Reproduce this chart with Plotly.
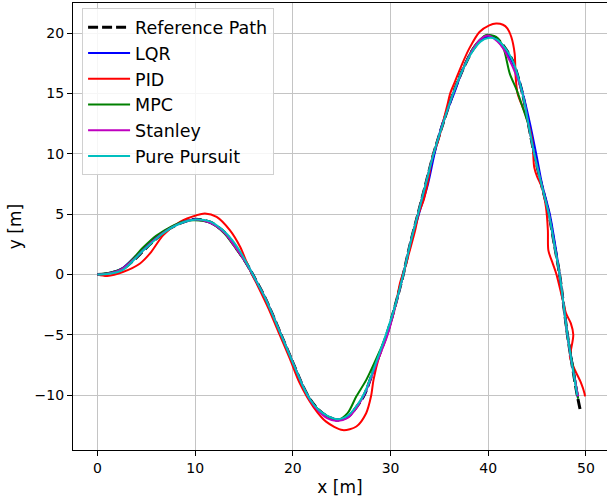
import plotly.graph_objects as go

# ---------------- data ----------------
ref_x = [0, 1.0, 2.5, 4.0, 5.5, 7.0, 8.5, 10.0, 11.5, 13.0, 14.2, 15.2, 16.2, 17.2, 18.8, 20.0,
         21.0, 21.8, 22.6, 23.5, 24.6, 25.7, 26.6, 27.3, 28.5, 29.6, 30.5, 31.3, 32.0, 32.8,
         33.6, 34.4, 35.4, 36.4, 37.4, 38.4, 39.2, 40.0, 40.8, 41.6, 42.5, 43.5, 44.1, 44.7,
         45.4, 46.2, 46.8, 47.3, 48.1, 48.6, 49.1, 49.4]
ref_y = [0, 0.06, 0.4, 1.4, 2.6, 3.6, 4.25, 4.58, 4.35, 3.5, 2.2, 1.0, -0.45, -2.0, -5.0, -7.3,
         -9.2, -10.4, -11.2, -11.75, -12.07, -11.75, -10.9, -10.0, -7.4, -5.0, -2.5, 0.0, 2.5, 5.0,
         7.5, 10.0, 12.6, 15.0, 17.0, 18.6, 19.4, 19.75, 19.6, 18.9, 17.7, 15.0, 12.5, 10.0,
         7.6, 5.0, 2.3, 0.0, -5.0, -7.6, -10.0, -11.2]

lqr_x = [0, 1.0, 2.5, 4.0, 5.5, 7.0, 8.5, 10.0, 11.5, 13.0, 14.2, 15.2, 16.2, 17.2, 18.8, 20.0,
         21.0, 21.8, 22.6, 23.5, 24.6, 25.7, 26.6, 27.3, 28.5, 29.6, 30.5, 31.3, 32.0, 32.9,
         33.8, 34.5, 35.3, 36.5, 37.4, 38.4, 39.2, 40.0, 40.8, 41.6, 42.6, 43.6, 44.3, 45.0,
         45.5, 46.3, 46.9, 47.3, 48.1, 48.7, 49.15]
lqr_y = [0, 0.08, 0.5, 1.6, 2.75, 3.65, 4.25, 4.55, 4.3, 3.45, 2.2, 1.0, -0.45, -2.0, -5.0, -7.3,
         -9.2, -10.4, -11.2, -11.75, -12.05, -11.7, -10.85, -10.0, -7.4, -5.0, -2.5, 0.0, 2.4, 5.0,
         7.4, 10.0, 12.5, 15.0, 17.0, 18.6, 19.4, 19.75, 19.5, 18.7, 17.4, 14.8, 12.4, 9.6,
         7.5, 5.0, 2.2, 0.0, -5.0, -7.8, -10.2]

pid_x = [0, 1.0, 2.66, 4.36, 5.38, 6.74, 8.45, 10.15, 11.0, 12.2, 13.55, 14.6, 15.6, 16.5,
         17.5, 18.6, 19.7, 20.7, 22.1, 23.4, 25.1, 26.5, 27.5, 28.0, 28.25, 28.8, 29.6, 30.5,
         31.0, 31.5, 31.9, 32.5, 32.9, 33.4, 33.9, 34.3, 34.8, 35.3, 35.8, 36.1, 36.6, 37.3,
         38.1, 39.1, 40.1, 40.8, 41.5, 41.95, 42.35, 42.7, 42.8, 43.0, 43.9, 44.5, 44.7, 45.0,
         45.5, 45.9, 46.1, 46.15, 46.6, 46.95, 47.5, 47.95, 48.45, 48.7, 48.45, 48.35, 48.8,
         49.5, 49.85, 49.9]
pid_y = [0, -0.12, 0.22, 0.91, 1.74, 3.26, 4.36, 4.91, 5.05, 4.77, 3.67, 2.29, 0.36, -1.1,
         -2.8, -4.9, -7.0, -9.0, -10.97, -12.2, -12.9, -12.6, -11.5, -10.1, -8.76, -6.9, -5.1, -2.6,
         -0.6, 0.6, 1.8, 3.6, 5.1, 6.2, 8.0, 9.8, 10.9, 12.4, 14.0, 15.0, 16.0, 17.4,
         18.8, 20.1, 20.65, 20.8, 20.7, 20.4, 19.7, 18.3, 16.4, 15.0, 13.06, 11.1, 8.9, 8.1,
         7.2, 5.6, 3.67, 2.0, 0.9, 0.08, -1.7, -3.2, -4.06, -5.0, -6.3, -6.8, -7.8,
         -9.0, -9.86, -10.1]

mpc_x = [0, 1.0, 2.66, 4.7, 6.0, 7.5, 8.8, 10.0, 11.5, 13.0, 14.2, 15.2, 16.2, 17.2, 18.8, 20.0,
         21.0, 21.8, 22.6, 23.5, 24.6, 25.6, 26.5, 27.5, 28.8, 29.8, 30.5, 31.3, 32.0, 32.8,
         33.6, 34.4, 35.4, 36.4, 37.4, 38.4, 39.2, 39.8, 40.8, 41.5, 42.2, 42.9, 43.5, 44.1,
         44.7, 45.4, 46.2, 46.8, 47.3, 48.1, 48.7, 49.2]
mpc_y = [0, 0.1, 0.55, 2.25, 3.2, 3.95, 4.4, 4.5, 4.3, 3.4, 2.1, 0.95, -0.5, -2.0, -5.0, -7.3,
         -9.2, -10.4, -11.2, -11.75, -12.05, -11.5, -10.1, -8.76, -6.5, -4.6, -2.5, 0.0, 2.5, 5.0,
         7.5, 10.0, 12.6, 15.0, 17.0, 18.7, 19.5, 19.85, 19.7, 18.9, 16.65, 15.3, 13.9, 12.4,
         10.0, 7.6, 5.0, 2.3, 0.0, -5.0, -7.8, -10.3]

stanley_x = [0, 1.0, 2.5, 4.0, 5.5, 7.0, 8.5, 10.0, 11.5, 13.0, 14.2, 15.2, 16.2, 17.2, 18.8, 20.0,
             21.0, 21.8, 22.6, 23.5, 24.5, 25.6, 26.6, 27.5, 28.6, 29.7, 30.5, 31.3, 32.0, 32.8,
             33.6, 34.4, 35.4, 36.4, 37.4, 38.4, 39.2, 40.0, 41.2, 42.5, 43.5, 44.1, 44.7,
             45.4, 46.2, 46.8, 47.3, 48.1, 48.6, 49.2]
stanley_y = [0, 0.07, 0.45, 1.45, 2.65, 3.6, 4.25, 4.55, 4.3, 3.45, 2.15, 0.95, -0.5, -2.0, -5.0, -7.3,
             -9.2, -10.45, -11.3, -11.9, -12.15, -11.9, -10.95, -9.6, -7.3, -5.0, -2.6, 0.0, 2.5, 5.0,
             7.5, 10.0, 12.6, 15.0, 17.0, 18.65, 19.5, 19.8, 19.1, 17.2, 15.0, 12.5, 10.0,
             7.6, 5.0, 2.3, 0.0, -5.0, -7.6, -10.1]

pp_x = [0, 1.0, 2.66, 4.7, 6.7, 8.4, 10.1, 11.5, 12.8, 13.8, 14.6, 15.2, 16.2, 17.2, 18.8, 20.0,
        21.0, 21.8, 22.6, 23.5, 24.6, 25.7, 26.7, 27.4, 28.6, 29.6, 30.5, 31.3, 32.0, 32.8,
        33.6, 34.4, 35.4, 36.4, 37.4, 38.4, 39.2, 40.0, 40.8, 41.6, 42.5, 43.5, 44.1, 44.7,
        45.4, 46.2, 46.8, 47.3, 48.1, 48.6, 49.1]
pp_y = [0, 0.03, 0.41, 2.0, 3.4, 4.2, 4.55, 4.4, 3.7, 2.84, 1.9, 1.05, -0.45, -2.0, -5.0, -7.3,
        -9.2, -10.4, -11.2, -11.7, -12.0, -11.65, -10.7, -9.7, -7.1, -4.8, -2.5, 0.0, 2.5, 5.0,
        7.5, 10.0, 12.6, 15.0, 17.0, 18.5, 19.3, 19.6, 19.5, 18.9, 17.7, 15.0, 12.5, 10.0,
        7.6, 5.0, 2.3, 0.0, -5.0, -7.6, -10.0]

series_names = ["LQR", "PID", "MPC", "Stanley", "Pure Pursuit"]
series_colors = ["#0000ff", "#ff0000", "#008000", "#bf00bf", "#00bfbf"]
series_x = [lqr_x, pid_x, mpc_x, stanley_x, pp_x]
series_y = [lqr_y, pid_y, mpc_y, stanley_y, pp_y]

x_ticks = [0, 10, 20, 30, 40, 50]
y_ticks = [-10, -5, 0, 5, 10, 15, 20]

# ---------------- figure ----------------
fig = go.Figure()
fig.add_trace(go.Scatter(x=ref_x, y=ref_y, mode="lines", name="Reference Path",
                         line=dict(color="black", width=3, dash="10px,4px", shape="spline", smoothing=0.8)))
for name, col, xs, ys in zip(series_names, series_colors, series_x, series_y):
    fig.add_trace(go.Scatter(x=xs, y=ys, mode="lines", name=name,
                             line=dict(color=col, width=2, shape="spline", smoothing=0.8)))

font_family = "DejaVu Sans"
fig.update_layout(
    width=607, height=500,
    margin=dict(l=73, r=0, t=3, b=50),
    paper_bgcolor="white", plot_bgcolor="white",
    font=dict(family=font_family, size=14, color="black"),
    showlegend=True,
    legend=dict(x=0.017, y=0.988, xanchor="left", yanchor="top",
                bgcolor="rgba(255,255,255,0.85)", bordercolor="#d0d0d0", borderwidth=1,
                font=dict(family=font_family, size=17.5, color="black"),
                itemwidth=42, tracegroupgap=0),
)
fig.update_xaxes(range=[-2.5, 52.15], tickvals=x_ticks, ticks="outside", ticklen=5, tickwidth=1,
                 tickcolor="black", showline=True, linecolor="black", linewidth=1.2, mirror=True,
                 showgrid=True, gridcolor="#c4c4c4", gridwidth=1, zeroline=False, automargin=False,
                 title=dict(text="x [m]", font=dict(size=17), standoff=6),
                 tickfont=dict(size=14))
fig.update_yaxes(range=[-14.55, 22.5], tickvals=y_ticks, ticks="outside", ticklen=5, tickwidth=1,
                 tickcolor="black", showline=True, linecolor="black", linewidth=1.2, mirror=False,
                 showgrid=True, gridcolor="#c4c4c4", gridwidth=1, zeroline=False, automargin=False,
                 title=dict(text="y [m]", font=dict(size=17), standoff=8),
                 tickfont=dict(size=14))

fig.write_html("out.html", config={"displayModeBar": False},
               post_script="document.body.style.margin='0px';document.body.style.overflow='hidden';")
